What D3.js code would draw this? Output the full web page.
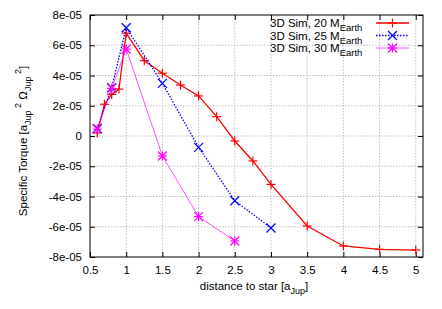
<!DOCTYPE html>
<html>
<head>
<meta charset="utf-8">
<script src="https://cdn.jsdelivr.net/npm/d3@7"></script>
<style>
  body { margin: 0; background: #fff; }
  text { font-family: "Liberation Sans", Arial, sans-serif; fill: #000; }
</style>
</head>
<body>
<svg id="chart" width="442" height="309"></svg>
<script>
// data
var x20 = [0.6, 0.7, 0.8, 0.9, 1.0, 1.25, 1.5, 1.75, 2.0, 2.25, 2.5, 2.75, 3.0, 3.5, 4.0, 4.5, 5.0];
var y20 = [0.2e-5, 2.1e-5, 2.75e-5, 3.1e-5, 6.8e-5, 4.98e-5, 4.15e-5, 3.37e-5, 2.65e-5, 1.28e-5, -0.33e-5, -1.65e-5, -3.2e-5, -5.95e-5, -7.27e-5, -7.49e-5, -7.54e-5];
var x25 = [0.6, 0.8, 1.0, 1.5, 2.0, 2.5, 3.0];
var y25 = [0.5e-5, 3.2e-5, 7.16e-5, 3.48e-5, -0.75e-5, -4.28e-5, -6.08e-5];
var x30 = [0.6, 0.8, 1.0, 1.5, 2.0, 2.5];
var y30 = [0.45e-5, 3.15e-5, 5.75e-5, -1.32e-5, -5.33e-5, -6.94e-5];
var xTicks = [0.5, 1, 1.5, 2, 2.5, 3, 3.5, 4, 4.5, 5];
var yTicks = [-8e-5, -6e-5, -4e-5, -2e-5, 0, 2e-5, 4e-5, 6e-5, 8e-5];
var yTickLabels = ["-8e-05", "-6e-05", "-4e-05", "-2e-05", "0", "2e-05", "4e-05", "6e-05", "8e-05"];

var svg = d3.select("#chart"),
    margin = { top: 15, right: 19, bottom: 52, left: 90 },
    width = +svg.attr("width") - margin.left - margin.right,
    height = +svg.attr("height") - margin.top - margin.bottom;

var x = d3.scaleLinear().domain([0.5, 5.1]).range([0, width]);
var y = d3.scaleLinear().domain([-8e-5, 8e-5]).range([height, 0]);

var g = svg.append("g")
    .attr("transform", "translate(" + margin.left + "," + margin.top + ")");

// grid
g.selectAll(".gx").data(xTicks.slice(1)).enter().append("line")
    .attr("x1", function(d) { return x(d); }).attr("x2", function(d) { return x(d); })
    .attr("y1", 0).attr("y2", height)
    .attr("stroke", "#b0b0b0").attr("stroke-width", 0.8).attr("stroke-dasharray", "1.5,1.5");
g.selectAll(".gy").data(yTicks.slice(1, -1)).enter().append("line")
    .attr("y1", function(d) { return y(d); }).attr("y2", function(d) { return y(d); })
    .attr("x1", 0).attr("x2", width)
    .attr("stroke", "#b0b0b0").attr("stroke-width", 0.8).attr("stroke-dasharray", "1.5,1.5");

// axes (inward ticks, mirrored)
var fmt = function(d) { return yTickLabels[yTicks.indexOf(d)]; };
g.append("g").call(d3.axisLeft(y).tickValues(yTicks).tickFormat(fmt).tickSizeInner(-5).tickSizeOuter(0).tickPadding(8));
g.append("g").attr("transform", "translate(0," + height + ")")
    .call(d3.axisBottom(x).tickValues(xTicks).tickFormat(d3.format("")).tickSizeInner(-5).tickSizeOuter(0).tickPadding(9));
g.append("g").call(d3.axisTop(x).tickValues(xTicks).tickFormat("").tickSizeInner(-5).tickSizeOuter(0));
g.append("g").attr("transform", "translate(" + width + ",0)")
    .call(d3.axisRight(y).tickValues(yTicks).tickFormat("").tickSizeInner(-5).tickSizeOuter(0));
g.selectAll(".domain").remove();
g.selectAll(".tick line").attr("stroke", "#000");
g.selectAll(".tick text").style("font-size", "11.5px").attr("fill", "#000");

g.append("rect").attr("width", width).attr("height", height)
    .attr("fill", "none").attr("stroke", "#000").attr("stroke-width", 1);

// series
var series = [
  { xs: x20, ys: y20, color: "#ff0000", dash: null, w: 1.3, sym: "plus", name: "20" },
  { xs: x25, ys: y25, color: "#0000ff", dash: "1.5,1.5", w: 1.3, sym: "cross", name: "25" },
  { xs: x30, ys: y30, color: "#ff00ff", dash: null, w: 0.7, sym: "star", name: "30" }
];

var line = d3.line().x(function(d) { return x(d[0]); }).y(function(d) { return y(d[1]); });

function symbol(sel, type, color, cx, cy) {
  var s = 4.5, p = [];
  if (type === "plus" || type === "star") p.push([[-s, 0], [s, 0]], [[0, -s], [0, s]]);
  if (type === "cross" || type === "star") p.push([[-s, -s], [s, s]], [[-s, s], [s, -s]]);
  p.forEach(function(seg) {
    sel.append("line")
      .attr("x1", cx + seg[0][0]).attr("y1", cy + seg[0][1])
      .attr("x2", cx + seg[1][0]).attr("y2", cy + seg[1][1])
      .attr("stroke", color).attr("stroke-width", 1.2);
  });
}

series.forEach(function(s) {
  var pts = s.xs.map(function(v, i) { return [v, s.ys[i]]; });
  g.append("path").datum(pts).attr("d", line)
    .attr("fill", "none").attr("stroke", s.color).attr("stroke-width", s.w)
    .attr("stroke-dasharray", s.dash);
  pts.forEach(function(p) { symbol(g, s.sym, s.color, x(p[0]), y(p[1])); });
});

// legend
var legend = svg.append("g");
series.forEach(function(s, i) {
  var ly = 23 + i * 12.5;
  var t = legend.append("text").attr("x", 270).attr("y", ly + 4).style("font-size", "11.5px");
  t.append("tspan").text("3D Sim, " + s.name + " M");
  t.append("tspan").attr("dy", 4).style("font-size", "9.5px").text("Earth");
  legend.append("line").attr("x1", 376).attr("x2", 409).attr("y1", ly).attr("y2", ly)
    .attr("stroke", s.color).attr("stroke-width", s.w).attr("stroke-dasharray", s.dash);
  symbol(legend, s.sym, s.color, 392.5, ly);
});

// axis labels
var xl = svg.append("text").attr("x", 254).attr("y", 290).attr("text-anchor", "middle").style("font-size", "11.5px");
xl.append("tspan").text("distance to star [a");
xl.append("tspan").attr("dy", 4).style("font-size", "9px").text("Jup");
xl.append("tspan").attr("dy", -4).text("]");

var yl = svg.append("text").attr("transform", "translate(27,141) rotate(-90)")
    .attr("text-anchor", "middle").style("font-size", "11.5px");
yl.append("tspan").text("Specific Torque [a");
yl.append("tspan").attr("dy", 4).style("font-size", "9px").text("Jup");
yl.append("tspan").attr("dy", -10).style("font-size", "9px").text(" 2");
yl.append("tspan").attr("dy", 6).text(" Ω");
yl.append("tspan").attr("dy", 4).style("font-size", "9px").text("Jup");
yl.append("tspan").attr("dy", -10).style("font-size", "9px").text(" 2");
yl.append("tspan").attr("dy", 6).text("]");
</script>
</body>
</html>
